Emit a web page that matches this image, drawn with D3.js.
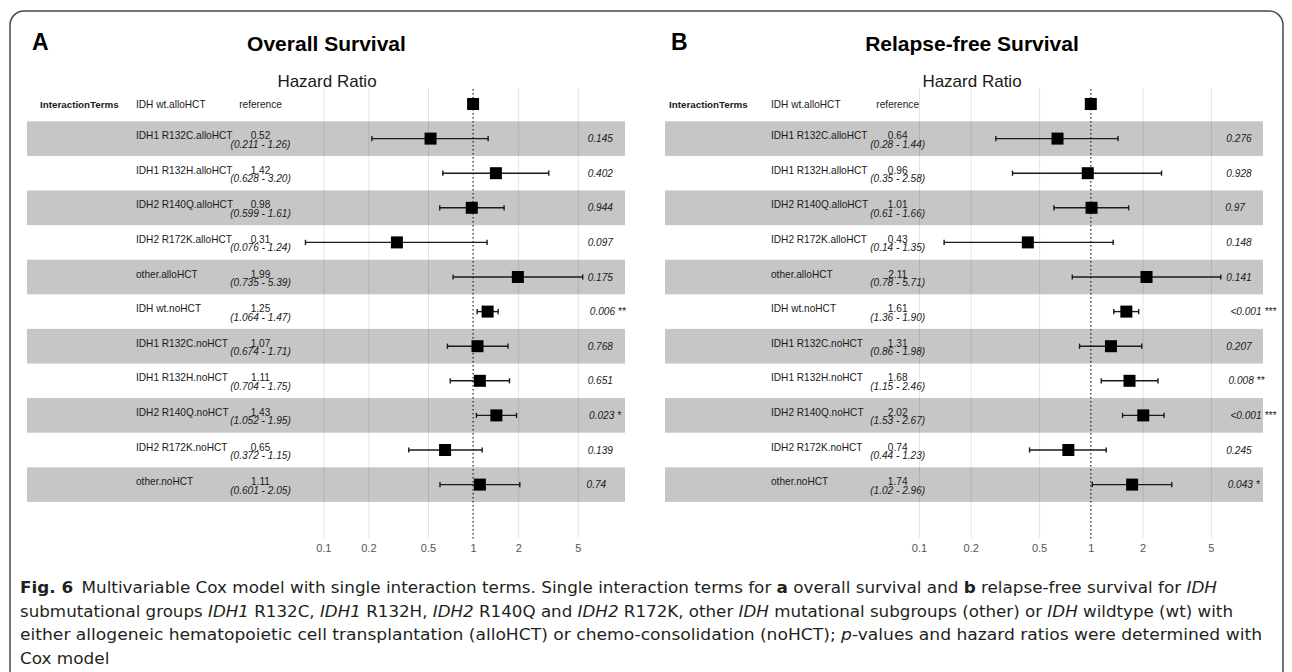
<!DOCTYPE html>
<html>
<head>
<meta charset="utf-8">
<script src="https://cdn.jsdelivr.net/npm/d3@7"></script>
<style>
  body { margin: 0; background: #fff; }
  svg { display: block; font-family: "Liberation Sans", Arial, Helvetica, sans-serif; }
</style>
</head>
<body>
<script>
"use strict";

/*
 * Forest plots of single interaction terms (Cox model), two panels.
 */

const terms = [
  "IDH wt.alloHCT", "IDH1 R132C.alloHCT", "IDH1 R132H.alloHCT", "IDH2 R140Q.alloHCT",
  "IDH2 R172K.alloHCT", "other.alloHCT", "IDH wt.noHCT", "IDH1 R132C.noHCT",
  "IDH1 R132H.noHCT", "IDH2 R140Q.noHCT", "IDH2 R172K.noHCT", "other.noHCT"
];

// Overall survival
const osEstimate = ["reference", "0.52", "1.42", "0.98", "0.31", "1.99", "1.25", "1.07", "1.11", "1.43", "0.65", "1.11"];
const osLower = ["", "0.211", "0.628", "0.599", "0.076", "0.735", "1.064", "0.674", "0.704", "1.052", "0.372", "0.601"];
const osUpper = ["", "1.26", "3.20", "1.61", "1.24", "5.39", "1.47", "1.71", "1.75", "1.95", "1.15", "2.05"];
const osP = ["", "0.145", "0.402", "0.944", "0.097", "0.175", "0.006 **", "0.768", "0.651", "0.023 *", "0.139", "0.74"];

// Relapse-free survival
const rfsEstimate = ["reference", "0.64", "0.96", "1.01", "0.43", "2.11", "1.61", "1.31", "1.68", "2.02", "0.74", "1.74"];
const rfsLower = ["", "0.28", "0.35", "0.61", "0.14", "0.78", "1.36", "0.86", "1.15", "1.53", "0.44", "1.02"];
const rfsUpper = ["", "1.44", "2.58", "1.66", "1.35", "5.71", "1.90", "1.98", "2.46", "2.67", "1.23", "2.96"];
const rfsP = ["", "0.276", "0.928", "0.97", "0.148", "0.141", "<0.001 ***", "0.207", "0.008 **", "<0.001 ***", "0.245", "0.043 *"];

const hrTicks = [0.1, 0.2, 0.5, 1, 2, 5];

const width = 1292;
const height = 672;
const ink = "#1a1a1a";

let svg = d3.select("body").append("svg")
    .attr("width", width)
    .attr("height", height);

// figure frame (runs off the bottom edge)
svg.append("rect")
  .attr("x", 10).attr("y", 11)
  .attr("width", 1273).attr("height", 720)
  .attr("rx", 14)
  .attr("fill", "none")
  .attr("stroke", "#4a4a4a")
  .attr("stroke-width", 1.5);

drawPanel({
  letter: "A", letterX: 32, title: "Overall Survival", titleX: 326.5, hrTitleX: 327,
  bandX: [27, 625], headX: 40, levelX: 136, estX: 260.5, pX: 582.6,
  plotRange: [323.3, 577.8],
  estimate: osEstimate, lower: osLower, upper: osUpper, p: osP
});

drawPanel({
  letter: "B", letterX: 671, title: "Relapse-free Survival", titleX: 972, hrTitleX: 972,
  bandX: [665, 1263], headX: 669, levelX: 771, estX: 897.7, pX: 1221.3,
  plotRange: [919, 1210.9],
  estimate: rfsEstimate, lower: rfsLower, upper: rfsUpper, p: rfsP
});

drawCaption();

function drawPanel(cfg) {
  let g = svg.append("g");
  let rows = d3.range(terms.length);

  let x = d3.scaleLog().domain([0.1, 5]).range(cfg.plotRange);
  let y = d3.scaleBand().domain(rows).range([86.7, 501.9]);
  let yc = i => y(i) + y.bandwidth() / 2;

  // alternating row shading
  g.append("g")
    .selectAll("rect")
    .data(rows.filter(i => i % 2 === 1))
    .enter().append("rect")
    .attr("x", cfg.bandX[0])
    .attr("width", cfg.bandX[1] - cfg.bandX[0])
    .attr("y", d => y(d))
    .attr("height", y.bandwidth())
    .attr("fill", "#c6c6c6");

  // vertical grid + tick labels
  let axis = d3.axisBottom(x)
      .tickValues(hrTicks)
      .tickFormat(d3.format("~g"))
      .tickSize(-450)
      .tickPadding(6);
  let axisG = g.append("g")
      .attr("transform", "translate(0,538)")
      .call(axis);
  axisG.select(".domain").remove();
  axisG.selectAll(".tick line")
    .attr("stroke", d => d === 1 ? "none" : "rgba(0,0,0,0.1)")
    .attr("stroke-width", 1);
  axisG.selectAll(".tick text")
    .attr("fill", "#555")
    .attr("font-size", 11)
    .attr("font-family", "Liberation Sans, Arial, sans-serif");

  // reference line at HR = 1
  g.append("line")
    .attr("x1", x(1)).attr("x2", x(1))
    .attr("y1", 89).attr("y2", 540)
    .attr("stroke", ink)
    .attr("stroke-width", 1.2)
    .attr("stroke-dasharray", "1.5,2.5");

  // titles
  g.append("text")
    .attr("x", cfg.letterX).attr("y", 50)
    .attr("font-size", 23).attr("font-weight", "bold").attr("fill", "#000")
    .text(cfg.letter);
  g.append("text")
    .attr("x", cfg.titleX).attr("y", 51)
    .attr("text-anchor", "middle")
    .attr("font-size", 21).attr("font-weight", "bold").attr("fill", "#000")
    .text(cfg.title);
  g.append("text")
    .attr("x", cfg.hrTitleX).attr("y", 86.5)
    .attr("text-anchor", "middle")
    .attr("font-size", 17).attr("fill", ink)
    .text("Hazard Ratio");

  // header / variable name
  g.append("text")
    .attr("x", cfg.headX).attr("y", yc(0) + 3.5)
    .attr("font-size", 9.8).attr("font-weight", "bold").attr("fill", ink)
    .text("InteractionTerms");

  // level labels
  g.append("g")
    .selectAll("text")
    .data(rows)
    .enter().append("text")
    .attr("x", cfg.levelX)
    .attr("y", d => d === 0 ? yc(d) + 3.5 : yc(d) + 0.5)
    .attr("font-size", 10.1).attr("fill", ink)
    .text(d => terms[d]);

  // estimates
  g.append("g")
    .selectAll("text")
    .data(rows)
    .enter().append("text")
    .attr("x", cfg.estX)
    .attr("y", d => d === 0 ? yc(d) + 3.5 : yc(d) + 0.5)
    .attr("text-anchor", "middle")
    .attr("font-size", 10.1).attr("fill", ink)
    .text(d => cfg.estimate[d]);

  // confidence intervals as text
  g.append("g")
    .selectAll("text")
    .data(rows.filter(i => cfg.lower[i] !== ""))
    .enter().append("text")
    .attr("x", cfg.estX)
    .attr("y", d => yc(d) + 9)
    .attr("text-anchor", "middle")
    .attr("font-size", 10.1).attr("font-style", "italic").attr("fill", ink)
    .text(d => `(${cfg.lower[d]} - ${cfg.upper[d]})`);

  // p-values (nudged like hjust = -0.2)
  g.append("g")
    .selectAll("text")
    .data(rows.filter(i => cfg.p[i] !== ""))
    .enter().append("text")
    .attr("y", d => yc(d) + 3.6)
    .attr("font-size", 10.1).attr("font-style", "italic").attr("fill", ink)
    .text(d => cfg.p[d])
    .attr("x", function() { return cfg.pX + 0.2 * this.getComputedTextLength(); });

  // error bars
  let ci = rows.filter(i => cfg.lower[i] !== "");
  let bars = g.append("g")
      .attr("stroke", ink)
      .attr("stroke-width", 1.4);
  bars.selectAll("line.ci")
    .data(ci)
    .enter().append("line")
    .attr("class", "ci")
    .attr("x1", d => x(+cfg.lower[d]))
    .attr("x2", d => x(+cfg.upper[d]))
    .attr("y1", d => yc(d))
    .attr("y2", d => yc(d));
  for (let end of ["lower", "upper"]) {
    bars.selectAll("line.cap-" + end)
      .data(ci)
      .enter().append("line")
      .attr("class", "cap-" + end)
      .attr("x1", d => x(+cfg[end][d]))
      .attr("x2", d => x(+cfg[end][d]))
      .attr("y1", d => yc(d) - 2.6)
      .attr("y2", d => yc(d) + 2.6);
  }

  // point estimates
  const size = 12;
  g.append("g")
    .selectAll("rect")
    .data(rows)
    .enter().append("rect")
    .attr("x", d => x(d === 0 ? 1 : +cfg.estimate[d]) - size / 2)
    .attr("y", d => yc(d) - size / 2)
    .attr("width", size)
    .attr("height", size)
    .attr("fill", "#000");
}

function drawCaption() {
  // each line: list of [text, style] pieces, plus its width in the picture
  // (the last line is short, so it just takes the squeeze of the others)
  let lines = [
    {w: 1197, parts: [
      ["Fig. 6", "b"], ["\u2002Multivariable Cox model with single interaction terms. Single interaction terms for ", ""],
      ["a", "b"], [" overall survival and ", ""], ["b", "b"], [" relapse-free survival for ", ""], ["IDH", "i"]]},
    {w: 1213, parts: [
      ["submutational groups ", ""], ["IDH1", "i"], [" R132C, ", ""], ["IDH1", "i"], [" R132H, ", ""],
      ["IDH2", "i"], [" R140Q and ", ""], ["IDH2", "i"], [" R172K, other ", ""], ["IDH", "i"],
      [" mutational subgroups (other) or ", ""], ["IDH", "i"], [" wildtype (wt) with", ""]]},
    {w: 1242, parts: [
      ["either allogeneic hematopoietic cell transplantation (alloHCT) or chemo-consolidation (noHCT); ", ""],
      ["p", "i"], ["-values and hazard ratios were determined with", ""]]},
    {w: null, parts: [["Cox model", ""]]}
  ];

  let cap = svg.append("g")
      .attr("font-family", "'Liberation Sans Narrow', 'DejaVu Sans Condensed', 'Roboto Condensed', 'DejaVu Sans', sans-serif")
      .attr("font-size", 16.5)
      .attr("fill", "#231f20");

  let squeeze = [];
  lines.forEach((line, i) => {
    let t = cap.append("text")
        .attr("x", 20)
        .attr("y", 593 + i * 23.7);
    for (let [str, style] of line.parts) {
      t.append("tspan")
        .attr("font-weight", style === "b" ? "bold" : null)
        .attr("font-style", style === "i" ? "italic" : null)
        .text(str);
    }
    let natural = t.node().getComputedTextLength();
    if (line.w) {
      squeeze.push(line.w / natural);
    } else {
      line.w = natural * d3.mean(squeeze);
    }
    t.attr("textLength", line.w)
      .attr("lengthAdjust", "spacingAndGlyphs");
  });
}
</script>
</body>
</html>
